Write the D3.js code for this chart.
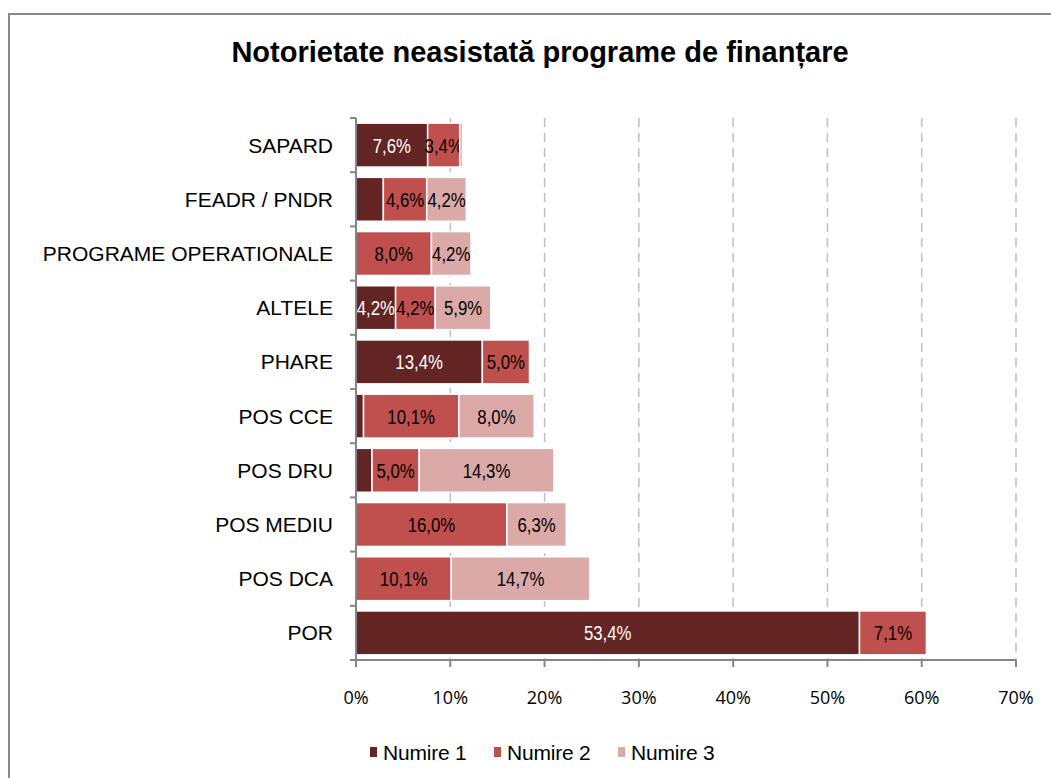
<!DOCTYPE html>
<html>
<head>
<meta charset="utf-8">
<script src="https://cdn.jsdelivr.net/npm/d3@7"></script>
<style>
	body { margin: 0; background: #fff; }
	svg { display: block; }
</style>
</head>
<body>
<svg id="chart" width="1051" height="778"></svg>
<script>
// date (procente)
var categories = ['SAPARD', 'FEADR / PNDR', 'PROGRAME OPERATIONALE', 'ALTELE', 'PHARE',
	'POS CCE', 'POS DRU', 'POS MEDIU', 'POS DCA', 'POR'];
var seriesNames = ['Numire 1', 'Numire 2', 'Numire 3'];
var numire1 = [7.6, 2.9, 0, 4.2, 13.4, 0.8, 1.7, 0, 0, 53.4];
var numire2 = [3.4, 4.6, 8.0, 4.2, 5.0, 10.1, 5.0, 16.0, 10.1, 7.1];
var numire3 = [0.3, 4.2, 4.2, 5.9, 0, 8.0, 14.3, 6.3, 14.7, 0];
var xTicks = [0, 10, 20, 30, 40, 50, 60, 70];
var colors = ['#632523', '#c0504d', '#dba9a8'];
var labelColors = ['#fff', '#000', '#000'];

var svg = d3.select('#chart');

// chenarul graficului
svg.append('rect')
	.attr('x', 9).attr('y', 14)
	.attr('width', 1060).attr('height', 800)
	.attr('fill', 'none')
	.attr('stroke', '#888')
	.attr('stroke-width', 2);

svg.append('text')
	.attr('x', 540).attr('y', 62)
	.attr('text-anchor', 'middle')
	.attr('font-family', 'Liberation Sans, Arial, sans-serif')
	.attr('font-weight', 'bold')
	.attr('font-size', 29)
	.text('Notorietate neasistată programe de finanțare');

var plotL = 356, plotR = 1016, plotT = 118, plotB = 660;

var x = d3.scaleLinear().domain([0, 70]).range([plotL, plotR]);
var y = d3.scaleBand().domain(categories).range([plotT, plotB]).paddingInner(0.19).paddingOuter(0.095);

// grila verticala
svg.append('g').selectAll('line')
	.data(xTicks.slice(1))
	.enter().append('line')
	.attr('x1', function(d) { return x(d); })
	.attr('x2', function(d) { return x(d); })
	.attr('y1', plotT).attr('y2', plotB)
	.attr('stroke', '#bfbfbf')
	.attr('stroke-width', 1.5)
	.attr('stroke-dasharray', '9,6');

var stack = categories.map(function(c, i) {
	return [numire1[i], numire2[i], numire3[i]];
});

var rows = svg.append('g').selectAll('g')
	.data(stack)
	.enter().append('g')
	.attr('transform', function(d, i) { return 'translate(0,' + y(categories[i]) + ')'; });

rows.each(function(vals) {
	var g = d3.select(this);
	var start = 0;
	vals.forEach(function(v, s) {
		if (v > 0) {
			g.append('rect')
				.attr('x', x(start))
				.attr('y', 0)
				.attr('width', x(start + v) - x(start))
				.attr('height', y.bandwidth())
				.attr('fill', colors[s])
				.attr('stroke', '#fff')
				.attr('stroke-width', 1.5);
			// etichetele mici (sub 3%) nu apar in original
			if (v >= 3) {
				var cx = (x(start) + x(start + v)) / 2;
				g.append('text')
					.attr('transform', 'translate(' + cx + ',' + (y.bandwidth() / 2 + 7.5) + ') scale(0.8,1)')
					.attr('text-anchor', 'middle')
					.attr('font-family', 'Liberation Sans Narrow, Arial Narrow, Liberation Sans, sans-serif')
					.attr('font-size', 21)
					.attr('fill', labelColors[s])
					.text(v.toFixed(1).replace('.', ',') + '%');
			}
		}
		start += v;
	});
});

// axa Y
var yAxis = svg.append('g');
yAxis.append('line')
	.attr('x1', plotL).attr('x2', plotL)
	.attr('y1', plotT).attr('y2', plotB + 6)
	.attr('stroke', '#868686').attr('stroke-width', 2);
var bounds = categories.map(function(c) { return y(c) - y.step() * y.paddingInner() / 2; });
bounds.push(plotB);
yAxis.selectAll('.tk')
	.data(bounds)
	.enter().append('line')
	.attr('x1', plotL - 6).attr('x2', plotL)
	.attr('y1', function(d) { return d; })
	.attr('y2', function(d) { return d; })
	.attr('stroke', '#868686').attr('stroke-width', 2);
yAxis.selectAll('text')
	.data(categories)
	.enter().append('text')
	.attr('x', 333)
	.attr('y', function(d) { return y(d) + y.bandwidth() / 2 + 7.5; })
	.attr('text-anchor', 'end')
	.attr('font-family', 'Liberation Sans, Arial, sans-serif')
	.attr('font-size', 21)
	.text(function(d) { return d; });

// axa X
var xAxis = svg.append('g');
xAxis.append('line')
	.attr('x1', plotL - 6).attr('x2', plotR)
	.attr('y1', plotB).attr('y2', plotB)
	.attr('stroke', '#868686').attr('stroke-width', 2);
xAxis.selectAll('.tk')
	.data(xTicks)
	.enter().append('line')
	.attr('x1', function(d) { return x(d); })
	.attr('x2', function(d) { return x(d); })
	.attr('y1', plotB).attr('y2', plotB + 7)
	.attr('stroke', '#868686').attr('stroke-width', 2);
xAxis.selectAll('text')
	.data(xTicks)
	.enter().append('text')
	.attr('x', function(d) { return x(d); })
	.attr('y', 704)
	.attr('text-anchor', 'middle')
	.attr('font-family', 'Open Sans, sans-serif')
	.attr('font-size', 18)
	.text(function(d) { return d + '%'; });

// legenda
var legendX = [370, 494, 618];
var legend = svg.append('g').selectAll('g')
	.data(seriesNames)
	.enter().append('g')
	.attr('transform', function(d, i) { return 'translate(' + legendX[i] + ',752)'; });
legend.append('rect')
	.attr('x', 0).attr('y', -5)
	.attr('width', 7).attr('height', 10)
	.attr('fill', function(d, i) { return colors[i]; });
legend.append('text')
	.attr('x', 13).attr('y', 7.5)
	.attr('font-family', 'Liberation Sans, Arial, sans-serif')
	.attr('font-size', 21)
	.attr('letter-spacing', -0.2)
	.text(function(d) { return d; });
</script>
</body>
</html>
